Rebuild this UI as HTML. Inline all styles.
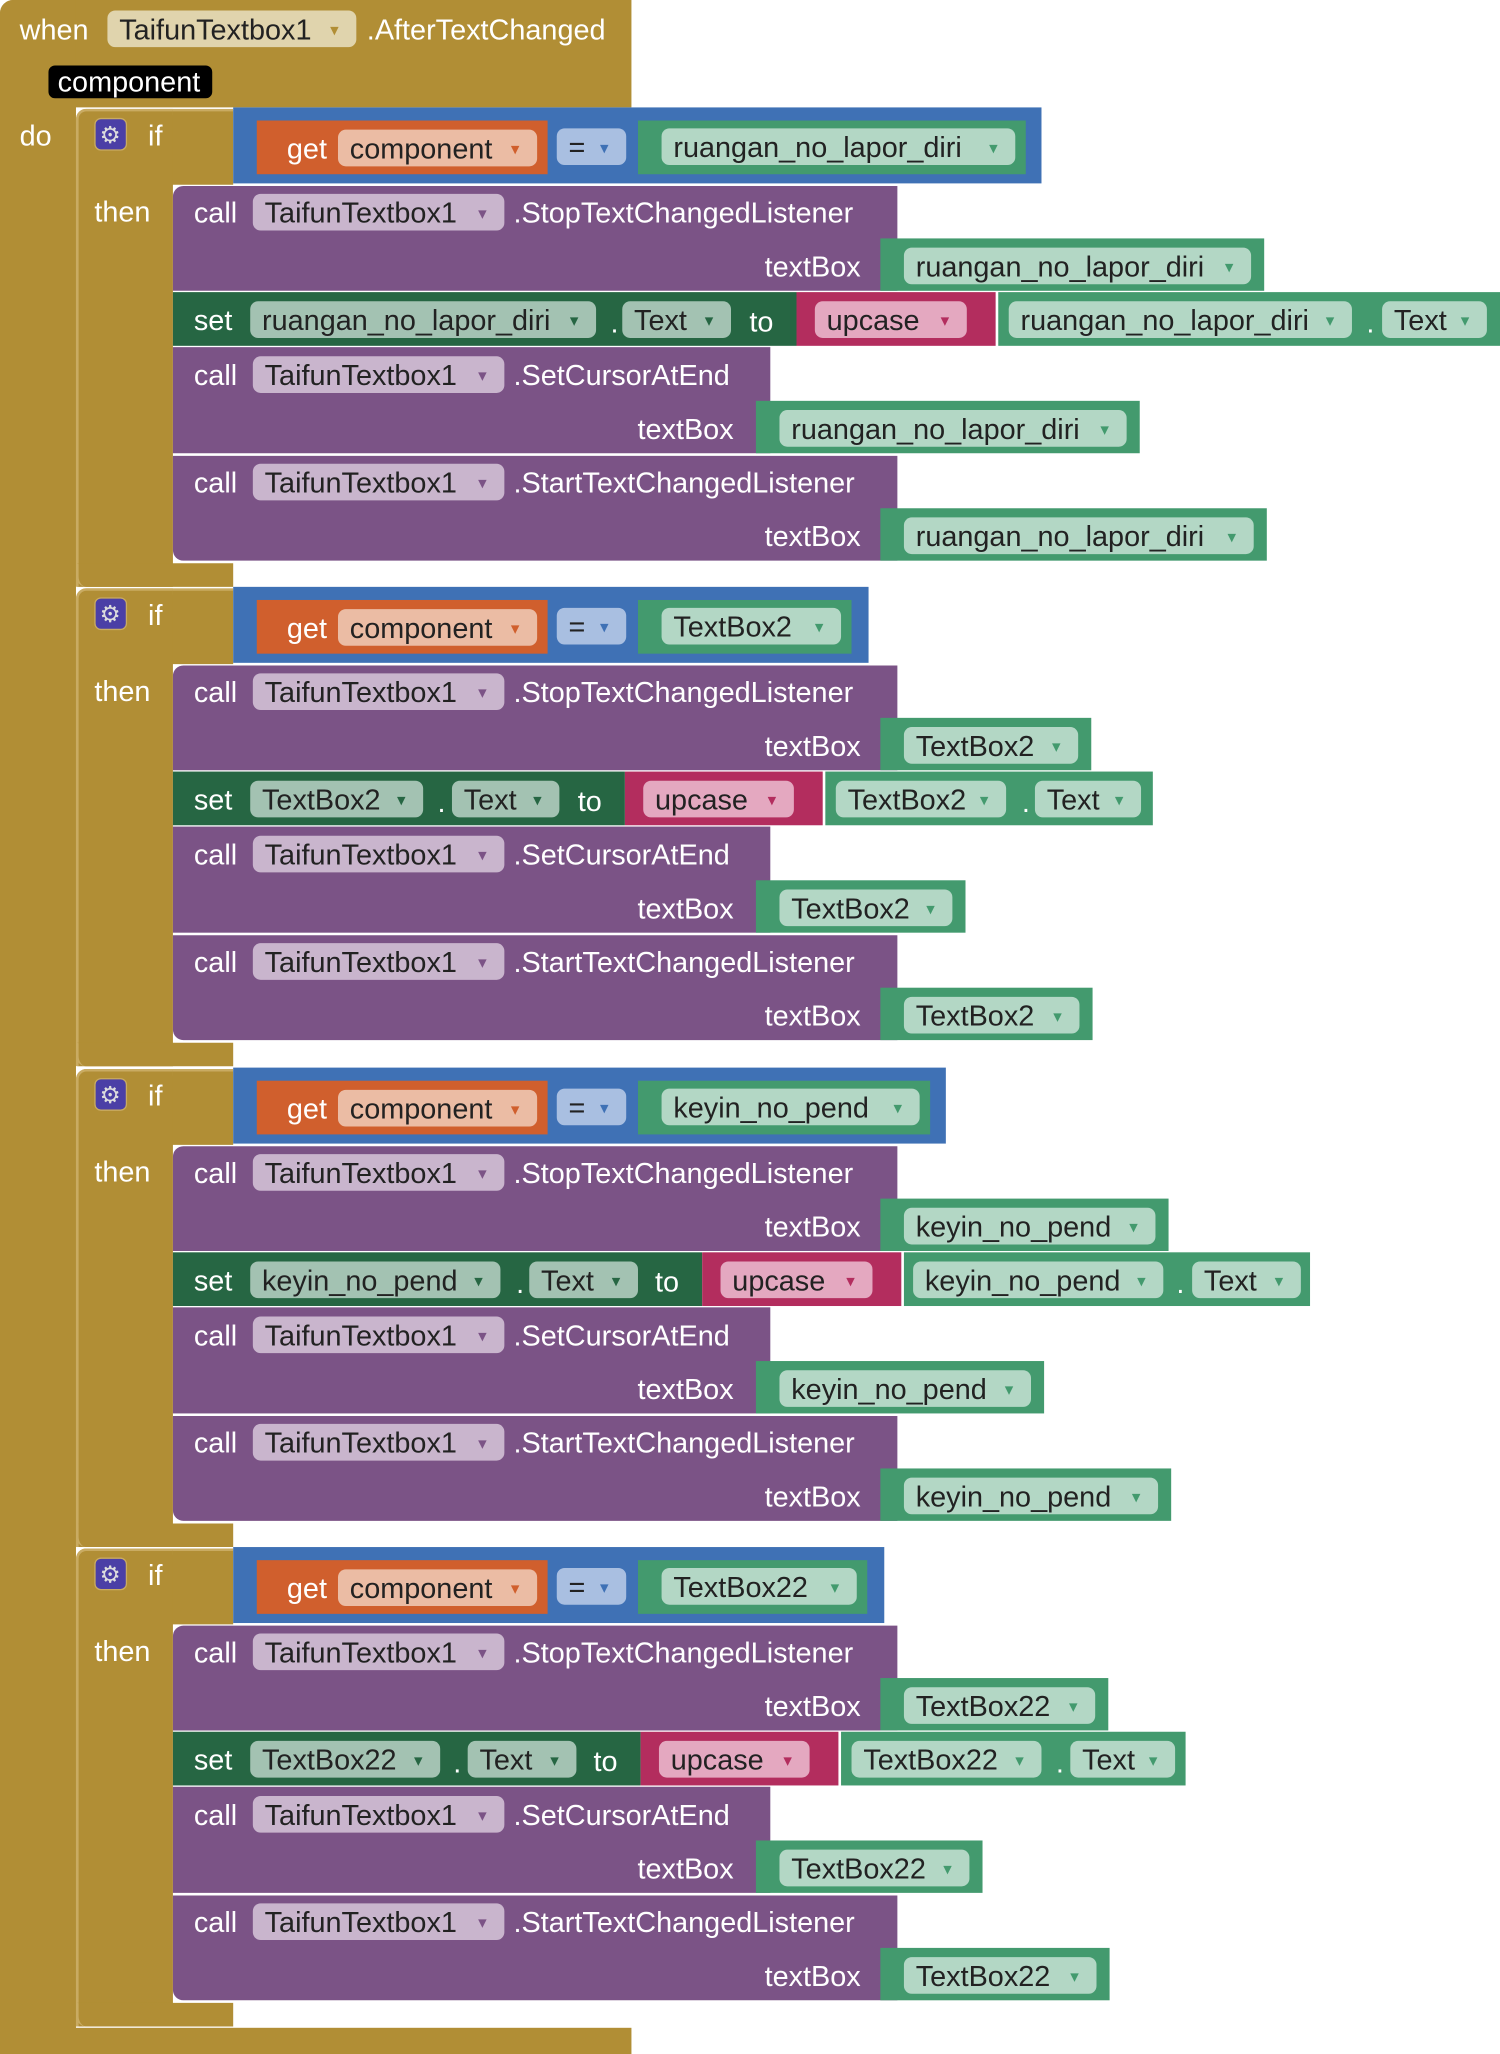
<!DOCTYPE html>
<html><head><meta charset="utf-8">
<style>
html,body{margin:0;padding:0;background:#fff;width:1500px;height:2054px;overflow:hidden}
#s{position:absolute;left:0;top:0;width:1145px;height:1568px;transform:scale(1.31004,1.30995);transform-origin:0 0;font-family:"Liberation Sans",sans-serif;font-size:22px}
#s div{position:absolute;box-sizing:border-box;white-space:nowrap}
.t{line-height:24px;height:24px}
</style></head><body>
<div id="s"></div>
<script>
const S=document.getElementById('s');
function box(x1,y1,x2,y2,bg,st){const d=document.createElement('div');d.style.cssText=`left:${x1}px;top:${y1}px;width:${x2-x1}px;height:${y2-y1}px;background:${bg};`+(st||'');S.appendChild(d);return d;}
function txt(x,cy,s,c,st){const d=document.createElement('div');d.className='t';d.style.cssText=`left:${x}px;top:${cy-11}px;color:${c||'#fff'};`+(st||'');d.textContent=s;S.appendChild(d);return d;}
function rtxt(xr,cy,s,c){const d=txt(0,cy,s,c);d.style.left='auto';d.style.right=(1145-xr)+'px';return d;}
function pill(x1,x2,cy,s,bg,ac,tc){box(x1,cy-14,x2,cy+14,bg,'border-radius:6px;');txt(x1+9,cy,s,tc||'#222');txt(x2-20,cy,'▾',ac,'font-size:13px;');}
const GOLD='#B18E35',PUR='#7B5386',SETG='#266643',GR='#439A6E',PG='#B3D7C5',BL='#3F71B5',OR='#D05F2D',POR='#EBBCA4',MAG='#B32D5E',PMAG='#E4A8C0',PP='#C9B5CD';
box(0,0,482,82,GOLD,'border-top-left-radius:10px;');
box(0,0,58,1568,GOLD,'border-top-left-radius:10px;');
box(0,1548,482,1568,GOLD);
txt(15,22,'when');pill(82,272,22,'TaifunTextbox1','#E0D4AD','#B18E35');
txt(280,22,'.AfterTextChanged');
box(37,50,162,75,'#000','border-radius:5px;');txt(44,62,'component');
txt(15,103,'do');
const secs=[
{n:'ruangan_no_lapor_diri',c:[487,783,795],sg:[672,965],sn:[191,455],sd:466,st:[475,558],to:572,up:[608,760],ug:[762,1145],gn:[770,1032],gd:1043,gt:[1055,1135],cg:[577,870],tg:[672,967]},
{n:'TextBox2',c:[487,650,663],sg:[672,833],sn:[191,323],sd:334,st:[345,427],to:441,up:[477,628],ug:[630,880],gn:[638,768],gd:780,gt:[790,871],cg:[577,737],tg:[672,834]},
{n:'keyin_no_pend',c:[487,710,722],sg:[672,892],sn:[191,382],sd:394,st:[404,487],to:500,up:[536,688],ug:[690,1000],gn:[697,888],gd:898,gt:[910,993],cg:[577,797],tg:[672,894]},
{n:'TextBox22',c:[487,662,675],sg:[672,846],sn:[191,336],sd:346,st:[357,440],to:453,up:[489,640],ug:[642,905],gn:[650,795],gd:806,gt:[817,897],cg:[577,750],tg:[672,847]}];
secs.forEach((q,k)=>{
 const o=Math.round(366.4*k);
 box(58,83+o,178,141+o,GOLD,'border-top-left-radius:8px;border-top:2px solid #C9AB62;border-left:2px solid #C9AB62;');
 box(58,83+o,132,448+o,GOLD,'border-top-left-radius:8px;border-left:2px solid #C9AB62;border-top:2px solid #C9AB62;');
 box(58,430+o,178,448+o,GOLD,'border-bottom-left-radius:8px;border-left:2px solid #C9AB62;');
 box(72,90+o,97,115+o,'#4B3FA6','border-radius:5px;border:1px solid #C9AB62;');
 txt(76,102+o,'⚙','#ddd','font-size:18px;');
 txt(113,103+o,'if');txt(72,161+o,'then');
 box(178,82+o,q.c[2],140+o,BL);
 box(196,92+o,418,133+o,OR);txt(219,113+o,'get');pill(258,410,113+o,'component',POR,OR);
 pill(425,478,112+o,'=','#A9BFE1',BL);
 box(q.c[0],92+o,q.c[1],133+o,GR);pill(505,q.c[1]-8,112+o,q.n,PG,GR);
 box(132,142+o,685,222+o,PUR,'border-top-left-radius:8px;');
 txt(148,162+o,'call');pill(193,385,162+o,'TaifunTextbox1',PP,PUR);txt(392,162+o,'.StopTextChangedListener');
 rtxt(657,203+o,'textBox');
 box(q.sg[0],182+o,q.sg[1],222+o,GR);pill(q.sg[0]+18,q.sg[1]-10,203+o,q.n,PG,GR);
 box(132,223+o,q.up[0],264+o,SETG);
 txt(148,244+o,'set');pill(q.sn[0],q.sn[1],244+o,q.n,'#A3C2B2',SETG);txt(q.sd,246+o,'.');
 pill(q.st[0],q.st[1],244+o,'Text','#A3C2B2',SETG);txt(q.to,245+o,'to');
 box(q.up[0],223+o,q.up[1],264+o,MAG);pill(q.up[0]+14,q.up[1]-22,244+o,'upcase',PMAG,MAG);
 box(q.ug[0],223+o,q.ug[1],264+o,GR);pill(q.gn[0],q.gn[1],244+o,q.n,PG,GR);txt(q.gd,246+o,'.');pill(q.gt[0],q.gt[1],244+o,'Text',PG,GR);
 box(132,265+o,588,346+o,PUR);
 txt(148,286+o,'call');pill(193,385,286+o,'TaifunTextbox1',PP,PUR);txt(392,286+o,'.SetCursorAtEnd');
 rtxt(560,327+o,'textBox');
 box(q.cg[0],306+o,q.cg[1],346+o,GR);pill(q.cg[0]+18,q.cg[1]-10,327+o,q.n,PG,GR);
 box(132,348+o,685,428+o,PUR,'border-bottom-left-radius:8px;');
 txt(148,368+o,'call');pill(193,385,368+o,'TaifunTextbox1',PP,PUR);txt(392,368+o,'.StartTextChangedListener');
 rtxt(657,409+o,'textBox');
 box(q.tg[0],388+o,q.tg[1],428+o,GR);pill(q.tg[0]+18,q.tg[1]-10,409+o,q.n,PG,GR);
});
</script>
</body></html>
